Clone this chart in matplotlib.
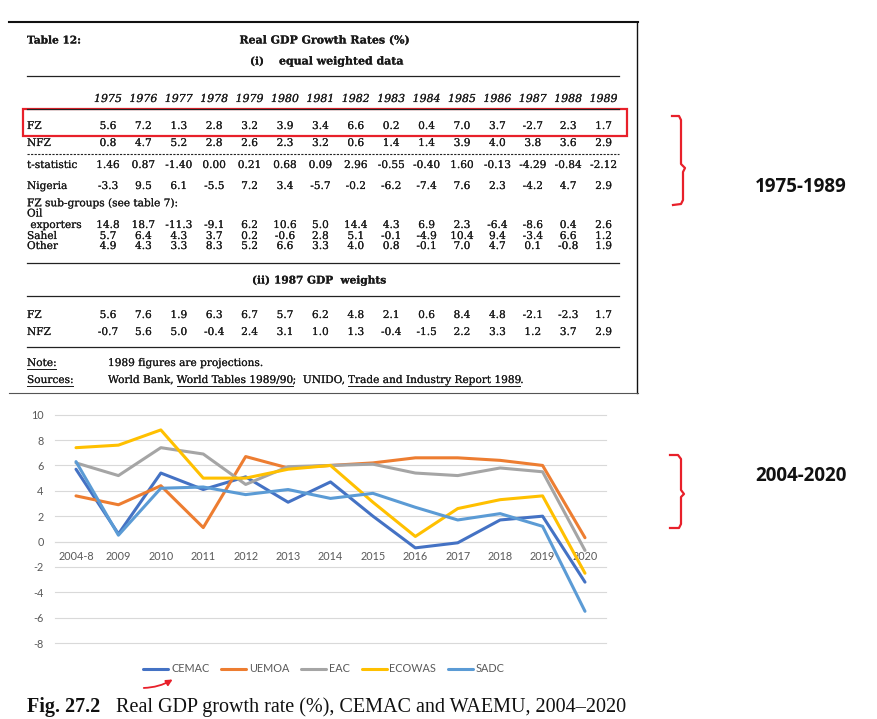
import matplotlib
matplotlib.use("Agg")
import matplotlib.pyplot as plt
import matplotlib.patheffects as pe
from matplotlib.lines import Line2D
from matplotlib.patches import Rectangle, FancyArrowPatch

# ---------------- data: table (1975-1989) ----------------
years = [1975, 1976, 1977, 1978, 1979, 1980, 1981, 1982, 1983, 1984, 1985, 1986, 1987, 1988, 1989]
fz_eq = [5.6, 7.2, 1.3, 2.8, 3.2, 3.9, 3.4, 6.6, 0.2, 0.4, 7.0, 3.7, -2.7, 2.3, 1.7]
nfz_eq = [0.8, 4.7, 5.2, 2.8, 2.6, 2.3, 3.2, 0.6, 1.4, 1.4, 3.9, 4.0, 3.8, 3.6, 2.9]
t_stat = [1.46, 0.87, -1.40, 0.00, 0.21, 0.68, 0.09, 2.96, -0.55, -0.40, 1.60, -0.13, -4.29, -0.84, -2.12]
nigeria = [-3.3, 9.5, 6.1, -5.5, 7.2, 3.4, -5.7, -0.2, -6.2, -7.4, 7.6, 2.3, -4.2, 4.7, 2.9]
oil_exp = [14.8, 18.7, -11.3, -9.1, 6.2, 10.6, 5.0, 14.4, 4.3, 6.9, 2.3, -6.4, -8.6, 0.4, 2.6]
sahel = [5.7, 6.4, 4.3, 3.7, 0.2, -0.6, 2.8, 5.1, -0.1, -4.9, 10.4, 9.4, -3.4, 6.6, 1.2]
other = [4.9, 4.3, 3.3, 8.3, 5.2, 6.6, 3.3, 4.0, 0.8, -0.1, 7.0, 4.7, 0.1, -0.8, 1.9]
fz_w87 = [5.6, 7.6, 1.9, 6.3, 6.7, 5.7, 6.2, 4.8, 2.1, 0.6, 8.4, 4.8, -2.1, -2.3, 1.7]
nfz_w87 = [-0.7, 5.6, 5.0, -0.4, 2.4, 3.1, 1.0, 1.3, -0.4, -1.5, 2.2, 3.3, 1.2, 3.7, 2.9]

# ---------------- data: line chart (2004-2020) ----------------
categories = ["2004-8", "2009", "2010", "2011", "2012", "2013", "2014",
              "2015", "2016", "2017", "2018", "2019", "2020"]
cemac = [5.7, 0.6, 5.4, 4.1, 5.1, 3.1, 4.7, 2.0, -0.5, -0.1, 1.7, 2.0, -3.2]
uemoa = [3.6, 2.9, 4.4, 1.1, 6.7, 5.8, 6.0, 6.2, 6.6, 6.6, 6.4, 6.0, 0.3]
eac = [6.2, 5.2, 7.4, 6.9, 4.5, 5.9, 6.0, 6.1, 5.4, 5.2, 5.8, 5.5, -0.7]
ecowas = [7.4, 7.6, 8.8, 5.0, 5.0, 5.7, 6.0, 3.1, 0.4, 2.6, 3.3, 3.6, -2.5]
sadc = [6.3, 0.5, 4.2, 4.3, 3.7, 4.1, 3.4, 3.8, 2.7, 1.7, 2.2, 1.2, -5.5]
series_names = ["CEMAC", "UEMOA", "EAC", "ECOWAS", "SADC"]
series_colors = ["#4472C4", "#ED7D31", "#A5A5A5", "#FFC000", "#5B9BD5"]
y_ticks = [-8, -6, -4, -2, 0, 2, 4, 6, 8, 10]

# ---------------- figure ----------------
W, H = 878, 719
fig = plt.figure(figsize=(W / 100, H / 100), dpi=100)
fig.patch.set_facecolor("white")


def fx(x):
    return x / W


def fy(y):
    return 1 - y / H


SERIF = "DejaVu Serif"
TCOL = "#1a1a1a"
TFS = 7.6
THICK = [pe.withStroke(linewidth=0.12, foreground=TCOL)]


def ttext(x, y, s, ha="left", bold=False, italic=False, fs=TFS, family=SERIF):
    t = fig.text(fx(x), fy(y), s, ha=ha, va="center", fontsize=fs,
                 fontweight="bold" if bold else "normal",
                 fontstyle="italic" if italic else "normal",
                 family=family, color=TCOL)
    t.set_path_effects(THICK)
    return t


def hline(y, x0, x1, lw=0.9, color="#222222", ls="-"):
    fig.add_artist(Line2D([fx(x0), fx(x1)], [fy(y), fy(y)], lw=lw, color=color, ls=ls))


# frame lines of the scanned table
hline(22, 9, 638, lw=1.5, color="#111111")
fig.add_artist(Line2D([fx(637.5), fx(637.5)], [fy(22), fy(393)], lw=1.0, color="#111111"))
hline(393, 9, 638, lw=0.8, color="#555555")

ttext(27, 40, "Table 12:", bold=True)
ttext(325, 40, "Real GDP Growth Rates (%)", ha="center", bold=True, fs=7.9)
ttext(250, 61, "(i)", bold=True)
ttext(279, 61, "equal weighted data", bold=True, fs=7.9)
hline(76, 27, 619)

col_x = [108 + 35.4 * i for i in range(len(years))]
for x, yr in zip(col_x, years):
    ttext(x, 99, str(yr), ha="center", italic=True, fs=7.9)
hline(109, 27, 619)


def row(y, label, vals, fmt="{:.1f}", lx=27):
    if label:
        ttext(lx, y, label)
    for x, v in zip(col_x, vals):
        ttext(x, y, fmt.format(v), ha="center")


row(126, "FZ", fz_eq)
row(143, "NFZ", nfz_eq)
hline(154, 27, 619, lw=0.8, ls=(0, (2, 1.2)))
row(165, "t-statistic", t_stat, fmt="{:.2f}")
row(186, "Nigeria", nigeria)
ttext(27, 203, "FZ sub-groups (see table 7):")
ttext(27, 213.5, "Oil")
row(225, " exporters", oil_exp)
row(236, "Sahel", sahel)
row(246, "Other", other)
hline(263, 27, 619)
ttext(252, 280, "(ii)", bold=True)
ttext(274, 280, "1987 GDP  weights", bold=True)
hline(296, 27, 619)
row(315, "FZ", fz_w87)
row(332, "NFZ", nfz_w87)
hline(347, 27, 619)

# notes with underlines
fig.canvas.draw()
renderer = fig.canvas.get_renderer()


def seq_text(x, y, parts):
    for s, ul in parts:
        t = ttext(x, y, s)
        bb = t.get_window_extent(renderer)
        if ul:
            yy = H - bb.y0 + 0.5
            fig.add_artist(Line2D([fx(bb.x0), fx(bb.x1)], [fy(yy), fy(yy)], lw=0.7, color=TCOL))
        x = bb.x1


seq_text(27, 363, [("Note:", True)])
seq_text(108, 363, [("1989 figures are projections.", False)])
seq_text(27, 380, [("Sources:", True)])
seq_text(108, 380, [("World Bank, ", False), ("World Tables 1989/90", True), (";  UNIDO, ", False),
                    ("Trade and Industry Report 1989", True), (".", False)])

# red highlight box
RED = "#e8202a"
fig.add_artist(Rectangle((fx(23), fy(136)), fx(627) - fx(23), fy(109) - fy(136),
                         fill=False, edgecolor=RED, lw=1.6))

# ---------------- line chart ----------------
ax = fig.add_axes([fx(54.8), fy(643), fx(606.2) - fx(54.8), fy(414.7) - fy(643)])
xs = list(range(len(categories)))
for name, vals, col in zip(series_names, [cemac, uemoa, eac, ecowas, sadc], series_colors):
    ax.plot(xs, vals, color=col, lw=2.2, label=name, solid_capstyle="round",
            solid_joinstyle="round", zorder=3)
ax.set_xlim(-0.5, len(categories) - 0.5)
ax.set_ylim(min(y_ticks), max(y_ticks))
for v in y_ticks:
    ax.axhline(v, color="#d9d9d9", lw=0.8, zorder=0, clip_on=False)
for s in ["top", "right", "left"]:
    ax.spines[s].set_visible(False)
ax.spines["bottom"].set_position(("data", 0))
ax.spines["bottom"].set_color("#d9d9d9")
ax.spines["bottom"].set_linewidth(0.8)
ax.set_yticks(y_ticks)
ax.set_yticklabels([str(v) for v in y_ticks])
ax.set_xticks(xs)
ax.set_xticklabels(categories)
ax.tick_params(axis="both", length=0, labelcolor="#595959", labelsize=7.8)
ax.tick_params(axis="y", pad=8)
ax.tick_params(axis="x", pad=7)
for lab in ax.get_xticklabels() + ax.get_yticklabels():
    lab.set_family("Lato")
ax.patch.set_alpha(0)

leg = fig.legend(*ax.get_legend_handles_labels(), loc="center",
                 bbox_to_anchor=(fx(324), fy(669)), ncol=5, frameon=False,
                 prop={"family": "Lato", "size": 7.8}, handlelength=2.3,
                 handletextpad=0.25, columnspacing=1.1, labelcolor="#595959")

# red arrow under the legend
fig.add_artist(FancyArrowPatch((fx(141), fy(688)), (fx(175), fy(678)),
                               transform=fig.transFigure, arrowstyle="-|>",
                               mutation_scale=9, color=RED, lw=1.3,
                               connectionstyle="arc3,rad=0.15"))

# caption
cap1 = fig.text(fx(27), fy(707), "Fig. 27.2", ha="left", va="center", fontsize=14.5,
                family="Liberation Serif", fontweight="bold", color="#111111")
fig.canvas.draw()
bb = cap1.get_window_extent(fig.canvas.get_renderer())
fig.text(fx(bb.x1 + 16), fy(707), "Real GDP growth rate (%), CEMAC and WAEMU, 2004\u20132020",
         ha="left", va="center", fontsize=14.5, family="Liberation Serif", color="#111111")

# ---------------- right-side braces and labels ----------------
brace1 = [(672, 116), (679, 116), (681, 120), (681, 164), (685, 168), (683, 172),
          (683, 200), (681, 204), (673, 205)]
brace2 = [(670, 455), (678, 455), (681, 459), (681, 490), (684, 494), (681, 497),
          (681, 524), (679, 528), (670, 528)]
for br in (brace1, brace2):
    fig.add_artist(Line2D([fx(p[0]) for p in br], [fy(p[1]) for p in br],
                          color=RED, lw=1.6, solid_joinstyle="round"))

fig.text(fx(801), fy(187), "1975-1989", ha="center", va="center", fontsize=13.5,
         fontweight="bold", family="Open Sans", color="#111111")
fig.text(fx(801), fy(476), "2004-2020", ha="center", va="center", fontsize=13.5,
         fontweight="bold", family="Open Sans", color="#111111")

fig.savefig("out.png", dpi=100, facecolor="white")
